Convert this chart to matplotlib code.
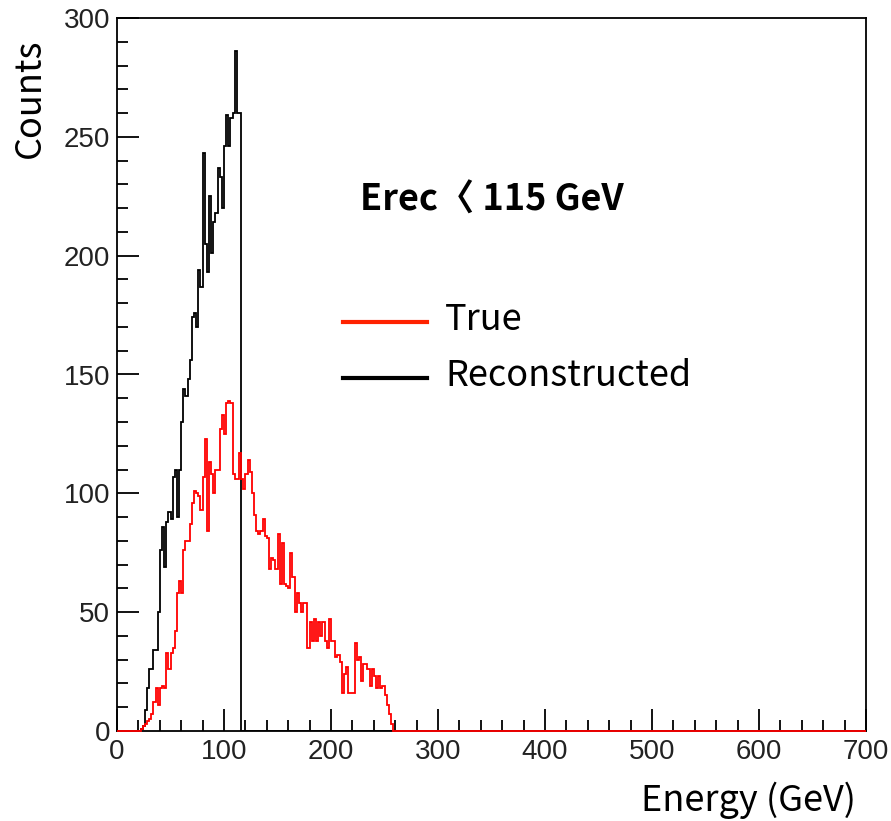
import matplotlib
matplotlib.use("Agg")
import matplotlib.pyplot as plt
import numpy as np

# 2 GeV bins from 0 to 700
bin_width = 2.0
e_min, e_max = 0.0, 700.0

# counts, first bin starts at 22 GeV
reco_start = 22
reco_counts = [1, 2, 9, 18, 26, 26, 34, 34, 50, 76,
               86, 69, 88, 92, 89, 107, 110, 90, 110, 130,
               144, 141, 148, 156, 174, 176, 170, 194, 187, 243,
               205, 193, 225, 201, 214, 218, 237, 233, 220, 246,
               259, 246, 258, 260, 286, 260, 260]

true_start = 22
true_counts = [1, 2, 3, 4, 5, 7, 12, 18, 11, 18,
               19, 18, 33, 26, 33, 35, 42, 58, 63, 58,
               76, 80, 80, 87, 96, 101, 100, 99, 93, 107,
               123, 84, 113, 108, 100, 110, 110, 127, 133, 125,
               138, 139, 138, 108, 106, 106, 117, 106, 102, 108,
               114, 109, 100, 91, 84, 83, 84, 89, 82, 81,
               68, 73, 72, 68, 83, 62, 79, 62, 61, 60,
               75, 65, 50, 58, 54, 50, 54, 54, 35, 46,
               38, 47, 38, 46, 40, 46, 38, 35, 47, 38,
               38, 31, 32, 29, 16, 24, 27, 16, 16, 16,
               37, 30, 31, 21, 28, 28, 26, 19, 26, 23,
               18, 23, 18, 19, 15, 11, 7, 3]

legend_labels = ["True", "Reconstructed"]
cut_text = "Erec\u3008 115 GeV"

W, H = 891, 821
fig = plt.figure(figsize=(W / 100, H / 100), dpi=100)
ax = fig.add_axes([117 / W, 1 - 731 / H, (866 - 117) / W, (731 - 18) / H])

edges = np.arange(e_min, e_max + bin_width, bin_width)
nbins = len(edges) - 1
reco = np.zeros(nbins)
i0 = int(reco_start / bin_width)
reco[i0:i0 + len(reco_counts)] = reco_counts
true = np.zeros(nbins)
j0 = int(true_start / bin_width)
true[j0:j0 + len(true_counts)] = true_counts

ax.stairs(reco, edges, color="black", lw=1.3, zorder=3)
ax.stairs(true, edges, color="#ff0000", lw=1.3, zorder=4, clip_on=False)

ax.set_xlim(0, 700)
ax.set_ylim(0, 300)
ax.set_xticks(np.arange(0, 701, 100))
ax.set_xticks(np.arange(0, 701, 20), minor=True)
ax.set_yticks(np.arange(0, 301, 50))
ax.set_yticks(np.arange(0, 301, 10), minor=True)
ax.tick_params(which="both", direction="in", width=1.3, colors="black")
ax.tick_params(which="major", length=16)
ax.tick_params(which="minor", length=8)
ax.tick_params(axis="x", pad=6)
ax.tick_params(axis="y", pad=5)
for lab in ax.get_xticklabels() + ax.get_yticklabels():
    lab.set_fontfamily("Liberation Sans")
    lab.set_fontsize(20)
    lab.set_color("#222222")
for s in ax.spines.values():
    s.set_linewidth(1.3)

cjk = ["Noto Sans CJK KR", "DejaVu Sans"]
fig.text(30 / W, 1 - 98 / H, "Counts", rotation=90, ha="center", va="center",
         fontsize=26, family=cjk)
fig.text(856 / W, 1 - 800 / H, "Energy (GeV)", ha="right", va="center",
         fontsize=26, family=cjk)
fig.text(360 / W, 1 - 200 / H, cut_text, ha="left", va="center",
         fontsize=26, fontweight="bold", family=cjk)

# legend drawn by hand, ROOT style
leg_colors = ["#ff2200", "black"]
leg_y = [322, 378]
for lab, col, y in zip(legend_labels, leg_colors, leg_y):
    fig.add_artist(plt.Line2D([343 / W, 427 / W], [1 - y / H, 1 - y / H],
                              color=col, lw=3, transform=fig.transFigure))
    fig.text(445 / W, 1 - (y - 2) / H, lab, ha="left", va="center",
             fontsize=26, family=cjk)

fig.savefig("out.png", dpi=100)
